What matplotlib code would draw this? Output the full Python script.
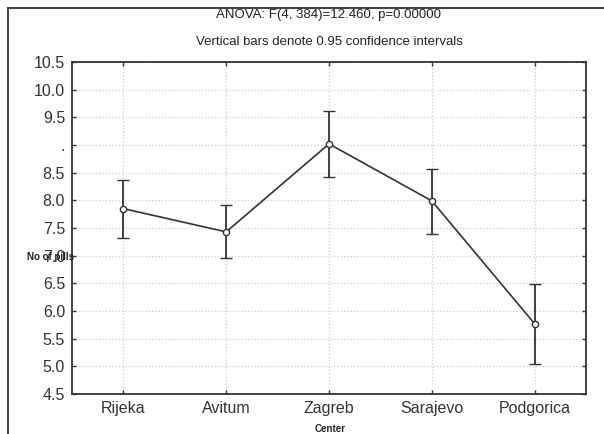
import matplotlib.pyplot as plt
from matplotlib.patches import Rectangle

plt.rcParams['font.family'] = ['Liberation Sans', 'DejaVu Sans']

# Dati
centers = ['Rijeka', 'Avitum', 'Zagreb', 'Sarajevo', 'Podgorica']
means = [7.85, 7.43, 9.02, 7.99, 5.77]
upper = [8.37, 7.92, 9.61, 8.56, 6.49]
lower = [7.32, 6.96, 8.42, 7.40, 5.05]
yticks = [4.5, 5.0, 5.5, 6.0, 6.5, 7.0, 7.5, 8.0, 8.5, 9.0, 9.5, 10.0, 10.5]
ytick_labels = ['4.5', '5.0', '5.5', '6.0', '6.5', '7.0', '7.5', '8.0', '8.5', '.', '9.5', '10.0', '10.5']

fig = plt.figure(figsize=(6.04, 4.34), dpi=100)
ax = fig.add_axes([72 / 604, 1 - 394 / 434, (586 - 72) / 604, (394 - 62) / 434])

x = list(range(len(centers)))
yerr = [[m - l for m, l in zip(means, lower)], [u - m for u, m in zip(upper, means)]]
ax.errorbar(x, means, yerr=yerr, color='#333333', linewidth=1.2, elinewidth=1.3,
            capsize=4.5, capthick=1.3, marker='o', markersize=4.5,
            markerfacecolor='white', markeredgecolor='#333333', markeredgewidth=1)

ax.set_xlim(-0.5, 4.5)
ax.set_ylim(4.5, 10.5)
ax.set_xticks(x)
ax.set_xticklabels(centers, fontsize=11.5)
ax.set_yticks(yticks)
ax.set_yticklabels(ytick_labels, fontsize=11.5)
ax.tick_params(direction='in', length=3, width=1, top=True, right=True,
               labelcolor='#333333', color='#333333', pad=5)
ax.grid(True, linestyle=':', color='#cccccc', linewidth=0.9)
for s in ax.spines.values():
    s.set_linewidth(1.3)
    s.set_color('#333333')

# Titoli ed etichette
cx = (72 + 586) / 2 / 604
fig.text(cx, 1 - 15 / 434, 'ANOVA: F(4, 384)=12.460, p=0.00000', ha='center', va='center',
         fontsize=9.5, color='#222222')
fig.text(cx, 1 - 42 / 434, 'Vertical bars denote 0.95 confidence intervals', ha='center',
         va='center', fontsize=9.5, color='#222222')
fig.text(27 / 604, 1 - 257 / 434, 'No of pills', ha='left', va='center', fontsize=7,
         fontweight='bold', color='#222222')
fig.text(330 / 604, 1 - 429 / 434, 'Center', ha='center', va='center', fontsize=7,
         fontweight='bold', color='#222222')

# Cornice esterna
fig.patches.append(Rectangle((8 / 604, -0.1), 1.2, 1.1 - 8 / 434, transform=fig.transFigure,
                             fill=False, edgecolor='#444444', linewidth=1.5))

fig.savefig('out.png', dpi=100)
